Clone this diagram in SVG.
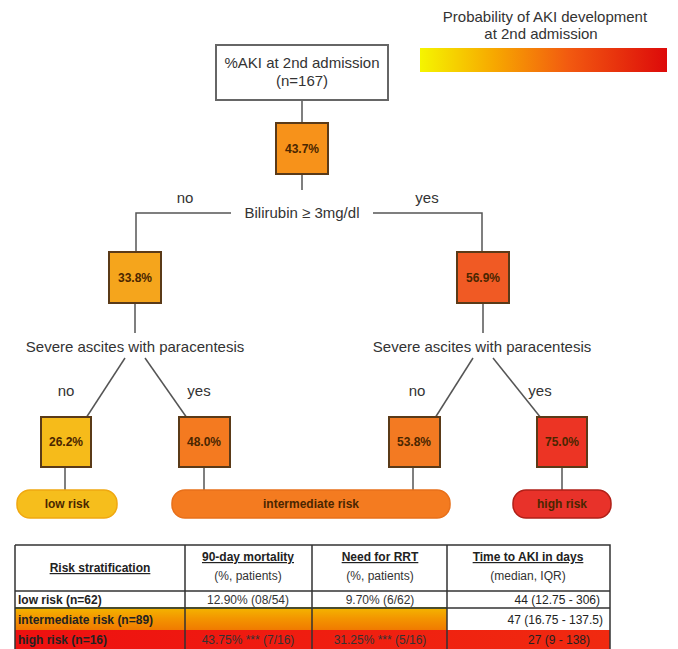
<svg xmlns="http://www.w3.org/2000/svg" width="678" height="649" viewBox="0 0 678 649">
<defs>
<linearGradient id="legend" x1="0" y1="0" x2="1" y2="0">
<stop offset="0" stop-color="#f5f500"/>
<stop offset="0.3" stop-color="#f7a800"/>
<stop offset="0.6" stop-color="#f25a10"/>
<stop offset="1" stop-color="#dd0a0a"/>
</linearGradient>
<linearGradient id="row2" x1="0" y1="0" x2="0" y2="1">
<stop offset="0" stop-color="#f4b400"/>
<stop offset="0.5" stop-color="#f39400"/>
<stop offset="1" stop-color="#f07a00"/>
</linearGradient>
<linearGradient id="row3" x1="0" y1="0" x2="1" y2="0">
<stop offset="0" stop-color="#ee1010"/>
<stop offset="1" stop-color="#f02a10"/>
</linearGradient>
</defs>
<style>
text{font-family:"Liberation Sans",Arial,sans-serif;fill:#333;}
.lbl{font-size:15px;text-anchor:middle;}
.pct{font-size:12px;font-weight:bold;text-anchor:middle;fill:#4a2600;}
.node{stroke:#5a3a18;stroke-width:2;}
.conn{stroke:#555;stroke-width:1.5;fill:none;}
.risk{font-size:12px;font-weight:bold;text-anchor:middle;fill:#4a2600;}
.th{font-size:12px;font-weight:bold;text-anchor:middle;text-decoration:underline;fill:#222;}
.ts{font-size:12px;text-anchor:middle;fill:#333;}
.td{font-size:12px;fill:#222;}
.grid{stroke:#333;stroke-width:1.5;fill:none;}
</style>
<rect width="678" height="649" fill="#fff"/>

<g id="legend-key">
<text class="lbl" x="545" y="22">Probability of AKI development</text>
<text class="lbl" x="541" y="39">at 2nd admission</text>
<rect x="420" y="48" width="247" height="24" fill="url(#legend)"/>
</g>

<g id="connectors">
<line class="conn" x1="302" y1="100" x2="302" y2="123"/>
<line class="conn" x1="302" y1="174" x2="302" y2="190"/>
<polyline class="conn" points="231,213 136,213 136,252"/>
<polyline class="conn" points="373,213 482,213 482,252"/>
<line class="conn" x1="135" y1="303" x2="135" y2="333"/>
<line class="conn" x1="483" y1="303" x2="483" y2="333"/>
<line class="conn" x1="125" y1="358" x2="86" y2="418"/>
<line class="conn" x1="145" y1="358" x2="187" y2="418"/>
<line class="conn" x1="473" y1="358" x2="435" y2="418"/>
<line class="conn" x1="493" y1="358" x2="541" y2="418"/>
<line class="conn" x1="65" y1="467" x2="65" y2="491"/>
<line class="conn" x1="204" y1="467" x2="204" y2="491"/>
<line class="conn" x1="413" y1="467" x2="413" y2="491"/>
<line class="conn" x1="562" y1="467" x2="562" y2="491"/>
</g>

<g id="root">
<rect x="216" y="45" width="172" height="55" fill="#fff" stroke="#666" stroke-width="2"/>
<text class="lbl" x="302" y="68">%AKI at 2nd admission</text>
<text class="lbl" x="302" y="86">(n=167)</text>
</g>

<g id="n1">
<rect class="node" x="276" y="123" width="52" height="51" fill="#f7921a"/>
<text class="pct" x="302" y="153">43.7%</text>
</g>

<g id="split1">
<text class="lbl" x="302" y="218">Bilirubin ≥ 3mg/dl</text>
<text class="lbl" x="185" y="203">no</text>
<text class="lbl" x="427" y="203">yes</text>
</g>

<g id="n2l">
<rect class="node" x="109" y="252" width="52" height="51" fill="#f5a51c"/>
<text class="pct" x="135" y="282">33.8%</text>
</g>
<g id="n2r">
<rect class="node" x="457" y="252" width="52" height="51" fill="#f05a24"/>
<text class="pct" x="483" y="282">56.9%</text>
</g>

<g id="split2l">
<text class="lbl" x="135" y="352">Severe ascites with paracentesis</text>
<text class="lbl" x="66" y="396">no</text>
<text class="lbl" x="199" y="396">yes</text>
</g>
<g id="split2r">
<text class="lbl" x="482" y="352">Severe ascites with paracentesis</text>
<text class="lbl" x="417" y="396">no</text>
<text class="lbl" x="540" y="396">yes</text>
</g>

<g id="leaf1">
<rect class="node" x="41" y="417" width="50" height="50" fill="#f6bb1a"/>
<text class="pct" x="66" y="446">26.2%</text>
</g>
<g id="leaf2">
<rect class="node" x="179" y="417" width="51" height="50" fill="#f47a20"/>
<text class="pct" x="204" y="446">48.0%</text>
</g>
<g id="leaf3">
<rect class="node" x="389" y="417" width="51" height="50" fill="#f37a22"/>
<text class="pct" x="414" y="446">53.8%</text>
</g>
<g id="leaf4">
<rect class="node" x="537" y="417" width="50" height="50" fill="#ec3424" stroke="#7a1a10"/>
<text class="pct" x="562" y="446">75.0%</text>
</g>

<g id="low-risk">
<rect x="17" y="490" width="100" height="28" rx="13" fill="#f6be1c" stroke="#f0a810" stroke-width="1.5"/>
<text class="risk" x="67" y="508">low risk</text>
</g>
<g id="intermediate-risk">
<rect x="172" y="490" width="278" height="28" rx="13" fill="#f47b20" stroke="#e8701a" stroke-width="1.5"/>
<text class="risk" x="311" y="508">intermediate risk</text>
</g>
<g id="high-risk">
<rect x="513" y="490" width="98" height="28" rx="13" fill="#e8322a" stroke="#b02018" stroke-width="1.5"/>
<text class="risk" x="562" y="508">high risk</text>
</g>

<g id="table">
<rect x="15" y="608" width="432" height="22" fill="url(#row2)"/>
<rect x="15" y="630" width="595" height="19" fill="url(#row3)"/>
<line x1="15" y1="608" x2="447" y2="608" stroke="#8a9a20" stroke-width="2"/>
<path class="grid" d="M15 545 H610 V649 M15 545 V649 M185 545 V649 M312 545 V649 M447 545 V649 M15 591 H610 M15 608 H610"/>
<text class="th" x="100" y="572">Risk stratification</text>
<text class="th" x="248" y="561">90-day mortality</text>
<text class="ts" x="248" y="580">(%, patients)</text>
<text class="th" x="380" y="561">Need for RRT</text>
<text class="ts" x="380" y="580">(%, patients)</text>
<text class="th" x="528" y="561">Time to AKI in days</text>
<text class="ts" x="528" y="580">(median, IQR)</text>
<text class="td" x="18" y="604" font-weight="bold">low risk (n=62)</text>
<text class="ts" x="248" y="604">12.90% (08/54)</text>
<text class="ts" x="380" y="604">9.70% (6/62)</text>
<text class="td" x="600" y="604" text-anchor="end">44 (12.75 - 306)</text>
<text class="td" x="18" y="624" font-weight="bold">intermediate risk (n=89)</text>
<text class="td" x="603" y="624" text-anchor="end">47 (16.75 - 137.5)</text>
<text class="td" x="18" y="644" font-weight="bold" fill="#8a0000">high risk (n=16)</text>
<text class="ts" x="248" y="644" fill="#8a0000">43.75% *** (7/16)</text>
<text class="ts" x="380" y="644" fill="#8a0000">31.25% *** (5/16)</text>
<text class="td" x="590" y="644" text-anchor="end" fill="#8a0000">27 (9 - 138)</text>
</g>
</svg>
